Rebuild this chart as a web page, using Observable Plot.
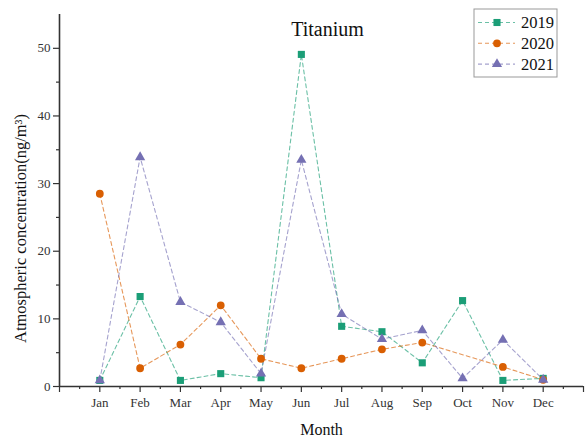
<!DOCTYPE html>
<html>
<head>
<meta charset="utf-8">
<script src="https://cdn.jsdelivr.net/npm/d3@7"></script>
<script src="https://cdn.jsdelivr.net/npm/@observablehq/plot@0.6"></script>
<style>
  html, body { margin: 0; padding: 0; background: #fff; }
  #chart { width: 586px; height: 442px; }
</style>
</head>
<body>
<div id="chart"></div>
<script>
// Monthly atmospheric titanium concentration (ng/m³), 2019–2021
const months = ["Jan", "Feb", "Mar", "Apr", "May", "Jun", "Jul", "Aug", "Sep", "Oct", "Nov", "Dec"];
const years = ["2019", "2020", "2021"];
const ti2019 = [0.9, 13.3, 0.9, 1.9, 1.3, 49.1, 8.9, 8.1, 3.5, 12.7, 0.9, 1.2];
const ti2020 = [28.5, 2.7, 6.2, 12.0, 4.1, 2.7, 4.1, 5.5, 6.5, null, 2.9, 1.0];
const ti2021 = [0.9, 33.9, 12.5, 9.5, 1.9, 33.5, 10.7, 7.0, 8.3, 1.2, 6.9, 1.0];
const yMajor = [0, 10, 20, 30, 40, 50];
const yMinor = [5, 15, 25, 35, 45];

const colors = ["#1b9e77", "#d95f02", "#7570b3"];
const symbols = ["square", "circle", "triangle"];
const radii = [4, 3.9, 3.8];
const serif = "'Liberation Serif', 'Times New Roman', serif";

// long-format table; the missing October 2020 value is left out so the line joins Sep to Nov
const series = [ti2019, ti2020, ti2021];
const rows = series.flatMap((vals, k) =>
  vals.map((v, i) => ({ m: i + 1, month: months[i], value: v, year: years[k] }))
      .filter(d => d.value != null)
);

const monthPos = months.map((_, i) => i + 1);
const xMajor = d3.range(0, months.length + 2);
const xMinor = d3.range(0.5, months.length + 1, 1);

const chart = Plot.plot({
  width: 586,
  height: 442,
  marginLeft: 59,
  marginRight: 3,
  marginTop: 14,
  marginBottom: 56,
  style: { fontFamily: serif, background: "#fff", color: "#333" },
  x: { domain: [0, months.length + 1], axis: null },
  y: { domain: [0, 55], axis: null },
  color: { domain: years, range: colors },
  marks: [
    // dashed connecting lines
    Plot.line(rows, {
      x: "m", y: "value", z: "year", stroke: "year",
      strokeWidth: 1.1, strokeDasharray: "4,3", strokeOpacity: 0.65
    }),
    // markers per year
    ...years.map((yr, k) => Plot.dot(rows.filter(d => d.year === yr), {
      x: "m", y: "value", symbol: () => symbols[k], r: radii[k],
      fill: colors[k], stroke: "none"
    })),
    // axes
    Plot.axisY({ ticks: yMajor, tickSize: 6, tickPadding: 3, fontSize: 13, label: null, stroke: "#333", strokeWidth: 1.2 }),
    Plot.axisY({ ticks: yMinor, tickSize: 3, text: null, label: null, stroke: "#333", strokeWidth: 1.2 }),
    Plot.axisX({ ticks: xMajor, tickSize: 6, text: null, label: null, stroke: "#333", strokeWidth: 1.2 }),
    Plot.axisX({ ticks: xMinor, tickSize: 3, text: null, label: null, stroke: "#333", strokeWidth: 1.2 }),
    Plot.axisX({ ticks: monthPos, tickSize: 0, tickPadding: 11, tickFormat: i => months[i - 1], fontSize: 13, label: null }),
    Plot.ruleY([0], { stroke: "#333", strokeWidth: 1.6 }),
    Plot.ruleX([0], { stroke: "#333", strokeWidth: 1.6 }),
    // titles
    Plot.text(["Titanium"], { frameAnchor: "top", dx: 6, dy: 7, fontSize: 20, fill: "#111" }),
    Plot.text(["Month"], { frameAnchor: "bottom", dy: 48, fontSize: 16, fill: "#111" }),
    Plot.text(["Atmospheric concentration(ng/m³)"], {
      frameAnchor: "left", textAnchor: "middle", dx: -39, dy: 28, rotate: -90, fontSize: 16.5, fill: "#111"
    })
  ]
});

document.getElementById("chart").appendChild(chart);

// legend box in the upper right corner of the frame
const svg = d3.select(chart);
const lg = svg.append("g").attr("transform", "translate(474,9)");
lg.append("rect").attr("width", 83).attr("height", 68)
  .attr("fill", "#fff").attr("stroke", "#999").attr("stroke-width", 1);
years.forEach((yr, k) => {
  const y = 13.5 + k * 20.8;
  lg.append("line").attr("x1", 4).attr("x2", 41).attr("y1", y).attr("y2", y)
    .attr("stroke", colors[k]).attr("stroke-width", 1.1)
    .attr("stroke-dasharray", "4,3").attr("stroke-opacity", 0.65);
  const sym = { square: d3.symbolSquare, circle: d3.symbolCircle, triangle: d3.symbolTriangle }[symbols[k]];
  lg.append("path").attr("d", d3.symbol(sym, Math.PI * radii[k] * radii[k])())
    .attr("transform", `translate(23,${y})`).attr("fill", colors[k]);
  lg.append("text").attr("x", 47).attr("y", y).attr("dy", "0.35em")
    .style("font-family", serif).style("font-size", "16.5px").style("text-anchor", "start")
    .attr("fill", "#111").text(yr);
});
</script>
</body>
</html>
